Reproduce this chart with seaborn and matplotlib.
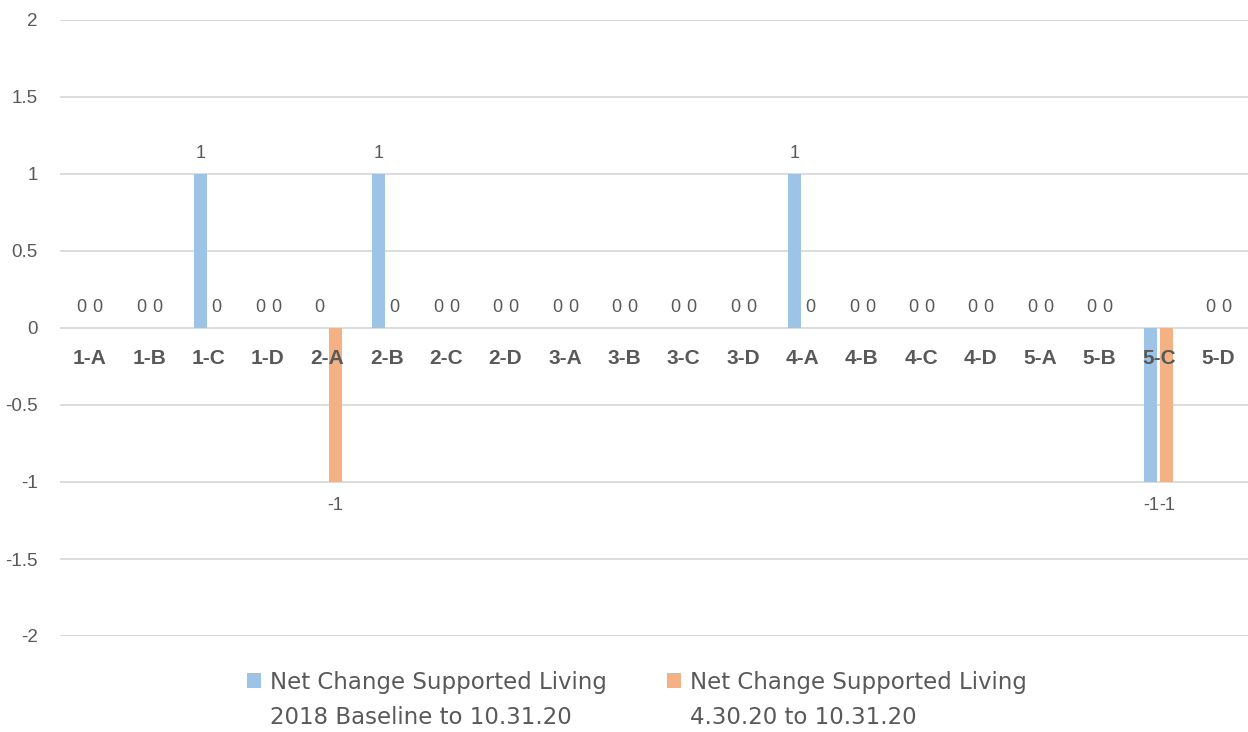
import matplotlib
matplotlib.use("Agg")
import matplotlib.pyplot as plt
from matplotlib.patches import Patch
import numpy as np
import pandas as pd
import seaborn as sns

# ---------------- data ----------------
categories = ["1-A", "1-B", "1-C", "1-D", "2-A", "2-B", "2-C", "2-D",
              "3-A", "3-B", "3-C", "3-D", "4-A", "4-B", "4-C", "4-D",
              "5-A", "5-B", "5-C", "5-D"]
series_line1 = ["Net Change Supported Living", "Net Change Supported Living"]
series_line2 = ["2018 Baseline to 10.31.20", "4.30.20 to 10.31.20"]
baseline_2018 = [0, 0, 1, 0, 0, 1, 0, 0, 0, 0, 0, 0, 1, 0, 0, 0, 0, 0, -1, 0]
april_to_oct = [0, 0, 0, 0, -1, 0, 0, 0, 0, 0, 0, 0, 0, 0, 0, 0, 0, 0, -1, 0]
y_ticks = [-2, -1.5, -1, -0.5, 0, 0.5, 1, 1.5, 2]
y_tick_labels = ["-2", "-1.5", "-1", "-0.5", "0", "0.5", "1", "1.5", "2"]

colors = ["#9DC3E6", "#F4B183"]
text_color = "#595959"
grid_color = "#D9D9D9"

series_keys = [a + " " + b for a, b in zip(series_line1, series_line2)]
df = pd.DataFrame({
    "category": categories * 2,
    "series": [series_keys[0]] * len(categories) + [series_keys[1]] * len(categories),
    "value": baseline_2018 + april_to_oct,
})

sns.set_theme(style="white")
plt.rcParams["font.family"] = ["Liberation Sans", "DejaVu Sans"]

W, H = 1248, 732
fig = plt.figure(figsize=(W / 100, H / 100), dpi=100)
ax = fig.add_axes([60 / W, 1 - 636 / H, 1 - 60 / W, (636 - 20) / H])

sns.barplot(data=df, x="category", y="value", hue="series",
            hue_order=series_keys, order=categories,
            palette=colors, saturation=1, width=0.54, gap=0.18,
            errorbar=None, legend=False, ax=ax, zorder=1, linewidth=0)

ax.set_axisbelow(False)
ax.grid(False)
ax.set_ylim(-2, 2)
ax.set_xlim(-0.5, len(categories) - 0.5)
for t in y_ticks:
    ax.axhline(t, color=grid_color, lw=1.3, zorder=0)

ax.set_yticks(y_ticks)
ax.set_yticklabels(y_tick_labels, fontsize=13.5, color=text_color)
ax.tick_params(axis="y", length=0, pad=16)

ax.spines["bottom"].set_position(("data", 0))
for s in ax.spines.values():
    s.set_visible(False)
ax.tick_params(axis="x", length=0, pad=15)
for lbl in ax.get_xticklabels():
    lbl.set_fontweight("bold")
    lbl.set_fontsize(15)
    lbl.set_color(text_color)
ax.set_xlabel("")
ax.set_ylabel("")

# data labels
for cont, vals in zip(ax.containers, [baseline_2018, april_to_oct]):
    for patch, v in zip(cont.patches, vals):
        xc = patch.get_x() + patch.get_width() / 2
        top = patch.get_y() + patch.get_height()
        if v >= 0:
            y = max(patch.get_y(), top)
            ax.annotate(f"{v:g}", (xc, y), xytext=(0, 8.5), textcoords="offset points",
                        ha="center", va="bottom", fontsize=13, color=text_color)
        else:
            y = min(patch.get_y(), top)
            ax.annotate(f"{v:g}", (xc, y), xytext=(0, -10.5), textcoords="offset points",
                        ha="center", va="top", fontsize=13, color=text_color)

# legend (first line), second line added below each label
handles = [Patch(facecolor=c, edgecolor="none") for c in colors]
leg_font = ["DejaVu Sans"]
leg = fig.legend(handles, series_line1, loc="center", bbox_to_anchor=(637 / W, 1 - 682 / H),
                 ncol=2, frameon=False, handlelength=0.6, handleheight=0.6,
                 handletextpad=0.4, columnspacing=2.6,
                 prop={"family": leg_font, "size": 16.5})
for t in leg.get_texts():
    t.set_color(text_color)

fig.canvas.draw()
renderer = fig.canvas.get_renderer()
for t, line2 in zip(leg.get_texts(), series_line2):
    bb = t.get_window_extent(renderer)
    yc = (bb.y0 + bb.y1) / 2 - 36
    fig.text(bb.x0 / W, yc / H, line2, ha="left", va="center",
             family=leg_font, fontsize=16.5, color=text_color)

fig.savefig("out.png", dpi=100)
